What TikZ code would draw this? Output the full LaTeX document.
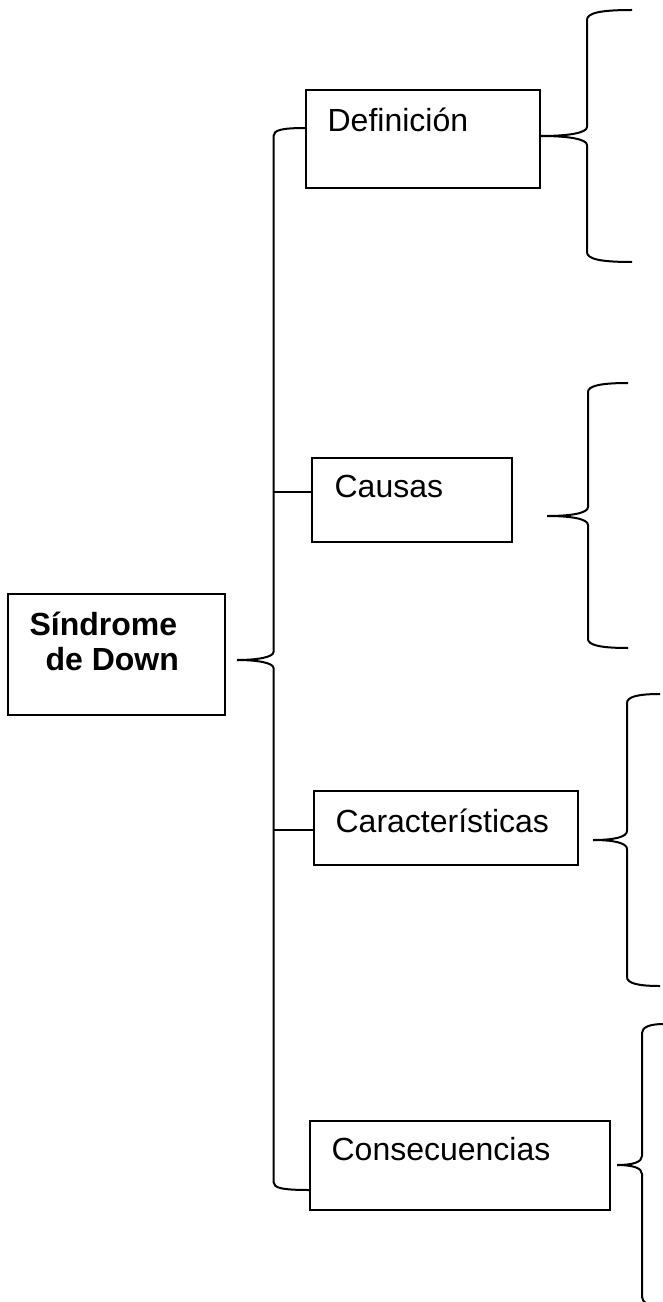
\documentclass[tikz,border=0pt]{standalone}
\usepackage{fontspec}
\setmainfont{Liberation Sans}
\usetikzlibrary{fit}

\tikzset{every picture/.style={line width=0.9pt}}
\tikzset{
  caja/.style={draw, inner sep=0pt, outer sep=0pt},
  rotulo/.style={inner sep=0pt, anchor=base west, font=\fontsize{24pt}{28pt}\selectfont},
  llave/.style={line width=1.5pt},
  enlace/.style={line width=0.9pt}
}

\begin{document}
\begin{tikzpicture}[x=0.75pt,y=0.75pt,yscale=-1]
    \useasboundingbox (0,0) rectangle (662,1302);
    % cajas
    \node[caja, fit={(8,594)(225,715)}] (sindrome) {};
    \node[caja, fit={(306,90)(540,188)}] (definicion) {};
    \node[caja, fit={(312,458)(512,542)}] (causas) {};
    \node[caja, fit={(314,791)(578,865)}] (caracteristicas) {};
    \node[caja, fit={(310,1121)(610,1210)}] (consecuencias) {};
    % textos
    \node[rotulo, font=\fontsize{24pt}{28pt}\selectfont\bfseries] (sindromeA) at (29,635) {Síndrome};
    \node[rotulo, font=\fontsize{24pt}{28pt}\selectfont\bfseries] (sindromeB) at (45,670) {de Down};
    \node[rotulo] (definicionT) at (327,132) {Definición};
    \node[rotulo] (causasT) at (334,497) {Causas};
    \node[rotulo] (caracteristicasT) at (335,832) {Características};
    \node[rotulo] (consecuenciasT) at (331,1160) {Consecuencias};
    % puntas de las llaves
    \coordinate (t0) at (237,660);
    \coordinate (t1) at (541,136);
    \coordinate (t2) at (547,516);
    \coordinate (t3) at (593,840);
    \coordinate (t4) at (617,1165);
    \coordinate (c0) at (273.5,128);
    \coordinate (c5) at (273.5,1190);
    \coordinate (c2) at (273.5,492);
    \coordinate (c3) at (273.5,830);
    % llave principal
    \draw[llave] (t0) .. controls (258,660) and (273.5,657) .. (273.5,652) -- (273.5,136) .. controls (273.5,130) and (282,128) .. (c0 -| definicion.west);
    \draw[llave] (t0) .. controls (258,660) and (273.5,663) .. (273.5,668) -- (273.5,1182) .. controls (273.5,1188) and (282,1190) .. (c5 -| consecuencias.west);
    \draw[enlace] (c2) -- (c2 -| causas.west);
    \draw[enlace] (c3) -- (c3 -| caracteristicas.west);
    % llave de definicion
    \draw[llave] (t1) .. controls (568,136) and (587,133) .. (587,127) -- (587,20) .. controls (587,13) and (600,10) .. (632,10);
    \draw[llave] (t1) .. controls (568,136) and (587,139) .. (587,145) -- (587,252) .. controls (587,259) and (600,262) .. (632,262);
    % llave de causas
    \draw[llave] (t2) .. controls (572,516) and (588,513) .. (588,507) -- (588,392) .. controls (588,386) and (600,383) .. (628,383);
    \draw[llave] (t2) .. controls (572,516) and (588,519) .. (588,525) -- (588,639) .. controls (588,645) and (600,648) .. (628,648);
    % llave de caracteristicas
    \draw[llave] (t3) .. controls (614,840) and (627,837) .. (627,831) -- (627,703) .. controls (627,697) and (637,694) .. (660,694);
    \draw[llave] (t3) .. controls (614,840) and (627,843) .. (627,849) -- (627,977) .. controls (627,983) and (637,986) .. (660,986);
    % llave de consecuencias
    \draw[llave] (t4) .. controls (633,1165) and (642,1162) .. (642,1156) -- (642,1033) .. controls (642,1027) and (650,1024) .. (664,1024);
    \draw[llave] (t4) .. controls (633,1165) and (642,1168) .. (642,1174) -- (642,1297) .. controls (642,1303) and (650,1306) .. (664,1306);
\end{tikzpicture}
\end{document}
